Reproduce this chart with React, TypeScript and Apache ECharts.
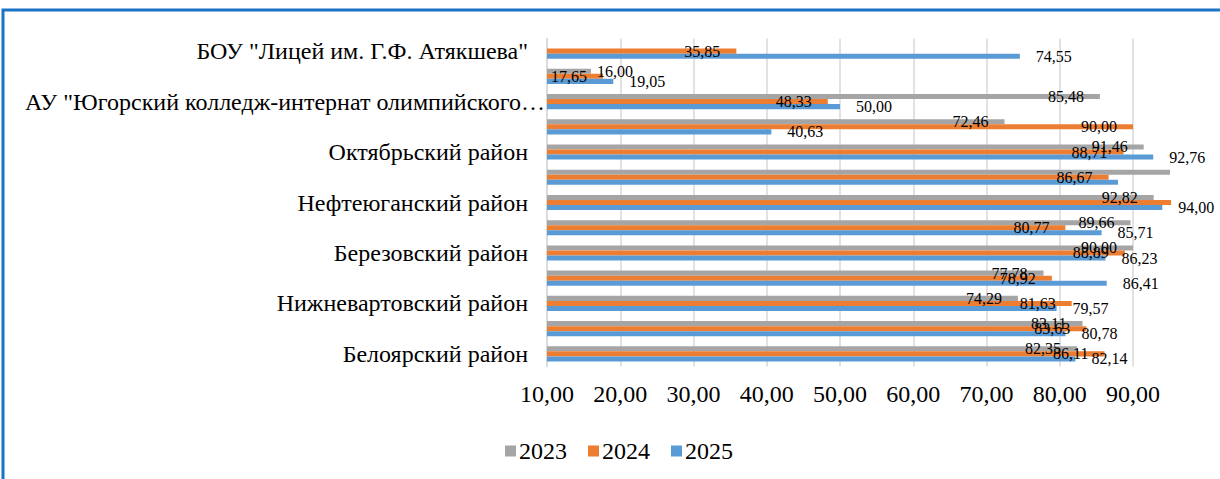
import React, { useEffect, useRef } from "react";
import * as echarts from "echarts";

const categories = [
  'БОУ "Лицей им. Г.Ф. Атякшева"',
  "Ханты-Мансийский район",
  'АУ "Югорский колледж-интернат олимпийского резерва"',
  "Сургутский район",
  "Октябрьский район",
  "Советский район",
  "Нефтеюганский район",
  "Кондинский район",
  "Березовский район",
  "г. Когалым",
  "Нижневартовский район",
  "г. Лангепас",
  "Белоярский район",
];

const values2023 = [null, 16.0, 85.48, 72.46, 91.46, 95.05, 92.82, 89.66, 90.0, 77.78, 74.29, 83.11, 82.35];
const values2024 = [35.85, 17.65, 48.33, 90.0, 88.71, 86.67, 95.2, 80.77, 88.89, 78.92, 81.63, 83.63, 86.11];
const values2025 = [74.55, 19.05, 50.0, 40.63, 92.76, 87.95, 94.0, 85.71, 86.23, 86.41, 79.57, 80.78, 82.14];

const hiddenLabels2023 = [5];
const hiddenLabels2024 = [6];
const hiddenLabels2025 = [5];
const outsideLabels2023 = [1];

const xTicksMin = 10;
const xTicksMax = 96;
const xInterval = 10;

const FONT = '"Liberation Serif", "Times New Roman", serif';
const fmt = (v: number) => v.toFixed(2).replace(".", ",");

function buildData(vals: (number | null)[], hidden: number[], outside: number[] = []) {
  return vals.map((v, i) => {
    if (hidden.includes(i)) return { value: v, label: { show: false } };
    if (outside.includes(i)) return { value: v, label: { position: "right", distance: 6 } };
    return { value: v };
  });
}

let measureCtx: CanvasRenderingContext2D | null = null;
function fitText(s: string, maxW: number, font: string) {
  if (!measureCtx) measureCtx = document.createElement("canvas").getContext("2d");
  if (!measureCtx) return s;
  measureCtx.font = font;
  if (measureCtx.measureText(s).width <= maxW) return s;
  let t = s;
  while (t.length > 1 && measureCtx.measureText(t + "…").width > maxW) t = t.slice(0, -1);
  return t + "…";
}

export default function App() {
  const ref = useRef<HTMLDivElement>(null);
  useEffect(() => {
    if (!ref.current) return;
    const chart = echarts.init(ref.current, null, { renderer: "svg" });
    const labelBase = {
      show: true,
      fontFamily: FONT,
      fontSize: 16,
      color: "#000",
      formatter: (p: any) => fmt(p.value),
    };
    const yData = categories.map((c) =>
      c.length > 40 ? { value: c } : { value: c, textStyle: { padding: [0, 17, 0, 0] } }
    );
    chart.setOption({
      animation: false,
      backgroundColor: "#fff",
      graphic: [
        {
          type: "rect",
          shape: { x: 3, y: 10, width: 1400, height: 700 },
          style: { fill: "none", stroke: "#1a73c4", lineWidth: 3 },
          z: 100,
        },
      ],
      grid: {
        left: 547,
        right: 1220 - (547 + (xTicksMax - xTicksMin) * 7.325),
        top: 38.5,
        bottom: 112.5,
        outerBoundsMode: "none",
      },
      legend: {
        left: 500,
        top: 434,
        icon: "rect",
        itemWidth: 11,
        itemHeight: 11,
        itemGap: 21,
        textStyle: { fontFamily: FONT, fontSize: 24, color: "#000", padding: [0, 0, 0, -2] },
        data: ["2023", "2024", "2025"],
      },
      xAxis: {
        type: "value",
        min: xTicksMin,
        max: xTicksMax,
        interval: xInterval,
        axisLine: { show: false },
        axisTick: { show: false },
        axisLabel: {
          fontFamily: FONT,
          fontSize: 24,
          color: "#000",
          margin: 15,
          showMaxLabel: false,
          formatter: (v: number) => fmt(v),
        },
        splitLine: { show: true, showMaxLine: false, lineStyle: { color: "#d9d9d9", width: 1.5 } },
      },
      yAxis: {
        type: "category",
        inverse: true,
        data: yData,
        axisLine: { show: true, lineStyle: { color: "#d9d9d9", width: 1.5 } },
        axisTick: { show: false },
        axisLabel: {
          interval: 1,
          fontFamily: FONT,
          fontSize: 24,
          color: "#000",
          margin: 2,
          formatter: (v: string) => fitText(v, 523, "24px " + FONT),
        },
      },
      series: [
        {
          name: "2023",
          type: "bar",
          barGap: "0%",
          barCategoryGap: "40%",
          itemStyle: { color: "#A5A5A5" },
          label: { ...labelBase, position: "insideRight", distance: 16 },
          data: buildData(values2023, hiddenLabels2023, outsideLabels2023),
        },
        {
          name: "2024",
          type: "bar",
          barGap: "0%",
          barCategoryGap: "40%",
          itemStyle: { color: "#ED7D31" },
          label: { ...labelBase, position: "insideRight", distance: 16 },
          data: buildData(values2024, hiddenLabels2024),
        },
        {
          name: "2025",
          type: "bar",
          barGap: "0%",
          barCategoryGap: "40%",
          itemStyle: { color: "#5B9BD5" },
          label: { ...labelBase, position: "right", distance: 16 },
          data: buildData(values2025, hiddenLabels2025),
        },
      ],
    });
    return () => chart.dispose();
  }, []);
  return (
    <div style={{ position: "absolute", left: 0, top: 0, width: 1220, height: 479, overflow: "hidden" }}>
      <div ref={ref} style={{ width: 1220, height: 479 }} />
    </div>
  );
}
